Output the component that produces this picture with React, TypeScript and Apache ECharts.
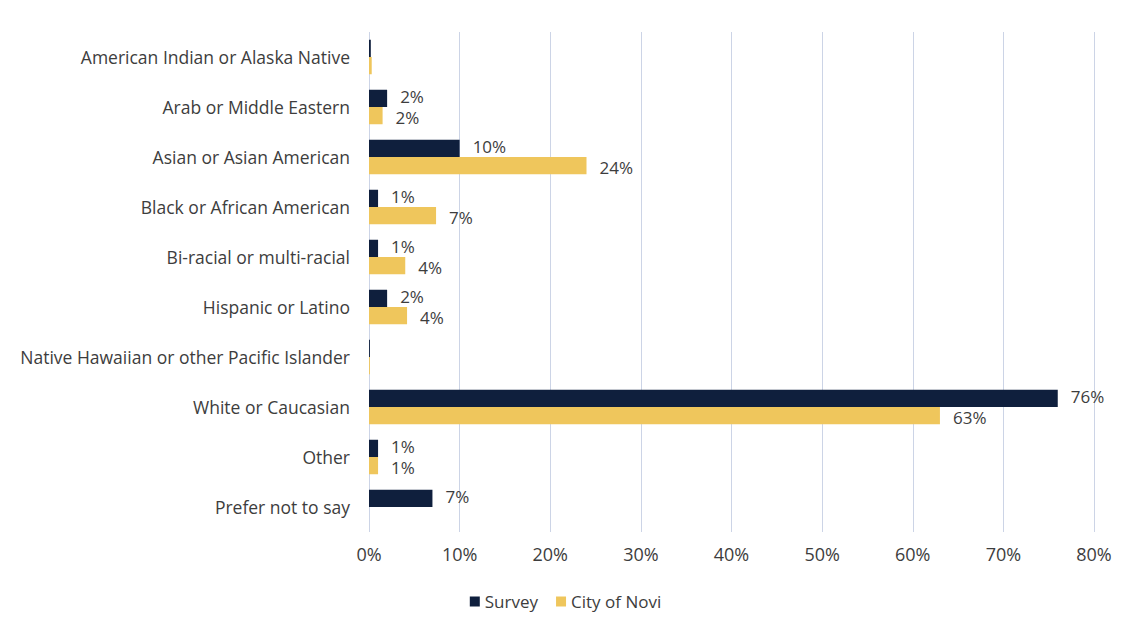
import React, { useEffect, useRef } from "react";
import * as echarts from "echarts";

const categories = [
  "American Indian or Alaska Native",
  "Arab or Middle Eastern",
  "Asian or Asian American",
  "Black or African American",
  "Bi-racial or multi-racial",
  "Hispanic or Latino",
  "Native Hawaiian or other Pacific Islander",
  "White or Caucasian",
  "Other",
  "Prefer not to say",
];
const surveyValues = [0.2, 2, 10, 1, 1, 2, 0.1, 76, 1, 7];
const noviValues = [0.3, 1.5, 24, 7.4, 4, 4.2, 0.1, 63, 1, null];
const seriesNames = ["Survey", "City of Novi"];
const xTicks = [0, 10, 20, 30, 40, 50, 60, 70, 80];

const FONT = "'Open Sans', 'Noto Sans', sans-serif";
const TEXT = "#3d3d3d";

export default function App() {
  const ref = useRef<HTMLDivElement>(null);
  useEffect(() => {
    document.body.style.margin = "0";
    const chart = echarts.init(ref.current!, null, { renderer: "svg" });
    const labelFmt = (p: any) =>
      p.value != null && p.value >= 0.5 ? `${Math.round(p.value)}%` : "";
    const valueLabel = (dy: number) => ({
      show: true,
      position: "right",
      distance: 13,
      offset: [0, dy],
      color: TEXT,
      fontSize: 17,
      lineHeight: 16,
      fontFamily: FONT,
      formatter: labelFmt,
    });
    chart.setOption({
      animation: false,
      backgroundColor: "#ffffff",
      textStyle: { fontFamily: FONT },
      grid: { left: 369, right: 37, top: 32, bottom: 91 },
      xAxis: {
        type: "value",
        min: xTicks[0],
        max: xTicks[xTicks.length - 1],
        interval: 10,
        axisLabel: {
          formatter: (v: number) => `${v}%`,
          color: TEXT,
          fontSize: 18,
          fontFamily: FONT,
          margin: 13,
        },
        axisLine: { show: false },
        axisTick: { show: false },
        splitLine: { show: true, lineStyle: { color: "#ccd4e6", width: 1 } },
      },
      yAxis: {
        type: "category",
        data: categories,
        inverse: true,
        axisLabel: { color: TEXT, fontSize: 17.5, fontFamily: FONT, margin: 19 },
        axisLine: { show: false },
        axisTick: { show: false },
        splitLine: { show: false },
      },
      legend: {
        bottom: 8,
        left: "center",
        itemWidth: 10,
        itemHeight: 10,
        itemGap: 18,
        icon: "rect",
        textStyle: { color: TEXT, fontSize: 17, fontFamily: FONT },
        data: seriesNames,
      },
      series: [
        {
          name: seriesNames[0],
          type: "bar",
          data: surveyValues,
          barGap: "0%",
          barCategoryGap: "31%",
          itemStyle: { color: "#0f1f3d" },
          label: valueLabel(-2),
        },
        {
          name: seriesNames[1],
          type: "bar",
          data: noviValues,
          barGap: "0%",
          barCategoryGap: "31%",
          itemStyle: { color: "#efc65c" },
          label: valueLabel(2),
        },
      ],
    });
    return () => chart.dispose();
  }, []);
  return <div ref={ref} style={{ width: 1131, height: 623 }} />;
}
